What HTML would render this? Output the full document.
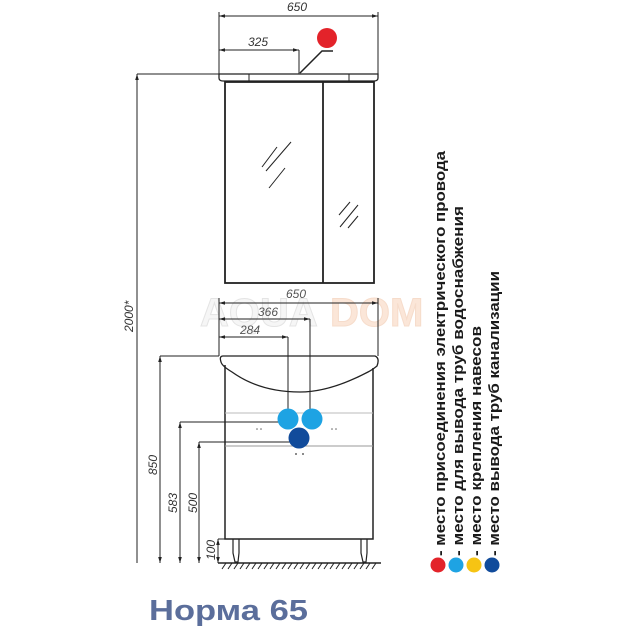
<!DOCTYPE html>
<html><head><meta charset="utf-8"><style>
html,body{margin:0;padding:0;background:#fff;}
svg{display:block;}
</style></head><body>
<svg width="631" height="630" viewBox="0 0 631 630" xmlns="http://www.w3.org/2000/svg" font-family="Liberation Sans, sans-serif">
<defs>
<marker id="a" viewBox="0 0 10 10" refX="10" refY="5" markerWidth="6" markerHeight="6" orient="auto-start-reverse"><path d="M0,2 L10,5 L0,8 z" fill="#222"/></marker>
</defs>
<!-- watermark -->
<text x="200" y="326" font-size="40" font-weight="bold" fill="#f6f6f6" stroke="#e4e4e4" stroke-width="1">AQUA</text>
<text x="330" y="326" font-size="40" font-weight="bold" fill="#fbe6d8" stroke="#f6dccb" stroke-width="1">DOM</text>

<g stroke="#222" fill="none" stroke-width="1">
<line x1="219" y1="16" x2="378" y2="16" marker-start="url(#a)" marker-end="url(#a)"/>
<line x1="219" y1="12" x2="219" y2="78"/>
<line x1="378" y1="12" x2="378" y2="78"/>
<line x1="219" y1="50" x2="299" y2="50" marker-start="url(#a)" marker-end="url(#a)"/>
<line x1="299" y1="50" x2="299" y2="74"/>
<polyline points="300,73 322,51 333,51" stroke-width="1.5"/>
<path d="M219,74 H378 V78 Q378,81 374,81 H223 Q219,81 219,78 Z" stroke-width="1.3"/>
<line x1="249" y1="74" x2="249" y2="81"/>
<line x1="349" y1="74" x2="349" y2="81"/>
<rect x="225" y="82" width="149" height="201" stroke-width="1.8"/>
<line x1="323" y1="82" x2="323" y2="283" stroke-width="1.8"/>
<line x1="262" y1="167" x2="277" y2="147"/>
<line x1="266" y1="171" x2="291" y2="142"/>
<line x1="269" y1="188" x2="285" y2="168"/>
<line x1="339" y1="215" x2="350" y2="202"/>
<line x1="340" y1="227" x2="358" y2="205"/>
<line x1="348" y1="228" x2="358" y2="216"/>
<line x1="137" y1="74" x2="137" y2="563" marker-start="url(#a)"/>
<line x1="137" y1="74" x2="219" y2="74"/>
<line x1="219" y1="303" x2="378" y2="303" marker-start="url(#a)" marker-end="url(#a)"/>
<line x1="219" y1="298" x2="219" y2="356"/>
<line x1="378" y1="298" x2="378" y2="356"/>
<line x1="219" y1="319" x2="310" y2="319" marker-start="url(#a)" marker-end="url(#a)"/>
<line x1="310" y1="319" x2="310" y2="412"/>
<line x1="219" y1="337" x2="288" y2="337" marker-start="url(#a)" marker-end="url(#a)"/>
<line x1="288" y1="337" x2="288" y2="412"/>
<path d="M223,356 H375 Q380,358 377,366 Q372,370 368,372 Q330,392 300,392 Q260,392 232,372 Q222,366 221,362 Q219,356 223,356 Z" stroke-width="1.3"/>
<path d="M225,365 V539 H373 V368" stroke-width="1.5"/>
<line x1="225" y1="413" x2="373" y2="413" stroke="#bbb"/>
<line x1="225" y1="446" x2="373" y2="446" stroke="#999"/>
<line x1="160" y1="356" x2="219" y2="356"/>
<line x1="160" y1="356" x2="160" y2="563" marker-start="url(#a)" marker-end="url(#a)"/>
<line x1="180" y1="422" x2="280" y2="422"/>
<line x1="180" y1="422" x2="180" y2="563" marker-start="url(#a)" marker-end="url(#a)"/>
<line x1="199" y1="442" x2="290" y2="442"/>
<line x1="199" y1="442" x2="199" y2="563" marker-start="url(#a)" marker-end="url(#a)"/>
<line x1="218" y1="539" x2="225" y2="539"/>
<line x1="218" y1="539" x2="218" y2="563" marker-start="url(#a)" marker-end="url(#a)"/>
<path d="M233,539 V553 L235,562 H238 L239,553 V539" stroke-width="1.2"/>
<path d="M361,539 V553 L363,562 H366 L367,553 V539" stroke-width="1.2"/>
<line x1="218" y1="563" x2="381" y2="563" stroke-width="1.5"/>
</g>
<g stroke="#222" stroke-width="1">
<path d="M222,569 l4,-6 M228,569 l4,-6 M234,569 l4,-6 M240,569 l4,-6 M246,569 l4,-6 M252,569 l4,-6 M258,569 l4,-6 M264,569 l4,-6 M270,569 l4,-6 M276,569 l4,-6 M282,569 l4,-6 M288,569 l4,-6 M294,569 l4,-6 M300,569 l4,-6 M306,569 l4,-6 M312,569 l4,-6 M318,569 l4,-6 M324,569 l4,-6 M330,569 l4,-6 M336,569 l4,-6 M342,569 l4,-6 M348,569 l4,-6 M354,569 l4,-6 M360,569 l4,-6 M366,569 l4,-6 M372,569 l4,-6"/>
</g>
<g fill="#666">
<circle cx="257" cy="429" r="0.8"/><circle cx="261" cy="429" r="0.8"/>
<circle cx="332" cy="429" r="0.8"/><circle cx="336" cy="429" r="0.8"/>
<circle cx="296" cy="454" r="1"/><circle cx="303" cy="454" r="1"/>
</g>
<circle cx="327" cy="38" r="10" fill="#e3232a"/>
<circle cx="288" cy="419" r="10.5" fill="#1ea3e3"/>
<circle cx="312" cy="419" r="10.5" fill="#1ea3e3"/>
<circle cx="299" cy="438" r="10.5" fill="#114b9b"/>
<g font-size="12" font-style="italic" fill="#333">
<text x="287" y="11">650</text>
<text x="248" y="46">325</text>
<text x="286" y="298" fill="#555">650</text>
<text x="258" y="316" fill="#555">366</text>
<text x="240" y="334" fill="#555">284</text>
<text transform="translate(133,332) rotate(-90)">2000*</text>
<text transform="translate(157,475) rotate(-90)">850</text>
<text transform="translate(177,513) rotate(-90)">583</text>
<text transform="translate(197,513) rotate(-90)">500</text>
<text transform="translate(215,560) rotate(-90)">100</text>
</g>
<g font-size="14.5" fill="#1a1a1a" font-weight="bold">
<text transform="translate(445,556) rotate(-90)" textLength="405" lengthAdjust="spacingAndGlyphs">- место присоединения электрического провода</text>
<text transform="translate(463,556) rotate(-90)" textLength="350" lengthAdjust="spacingAndGlyphs">- место для вывода труб водоснабжения</text>
<text transform="translate(481,556) rotate(-90)" textLength="230" lengthAdjust="spacingAndGlyphs">- место крепления навесов</text>
<text transform="translate(499,556) rotate(-90)" textLength="285" lengthAdjust="spacingAndGlyphs">- место вывода труб канализации</text>
</g>
<circle cx="438" cy="565" r="7.5" fill="#e3232a"/>
<circle cx="456" cy="565" r="7.5" fill="#1ea3e3"/>
<circle cx="474" cy="565" r="7.5" fill="#f6c413"/>
<circle cx="492" cy="565" r="7.5" fill="#114b9b"/>
<text x="149" y="620" font-size="29" font-weight="bold" fill="#5b6e9b" textLength="159" lengthAdjust="spacingAndGlyphs">Норма 65</text>
</svg>
</body></html>
